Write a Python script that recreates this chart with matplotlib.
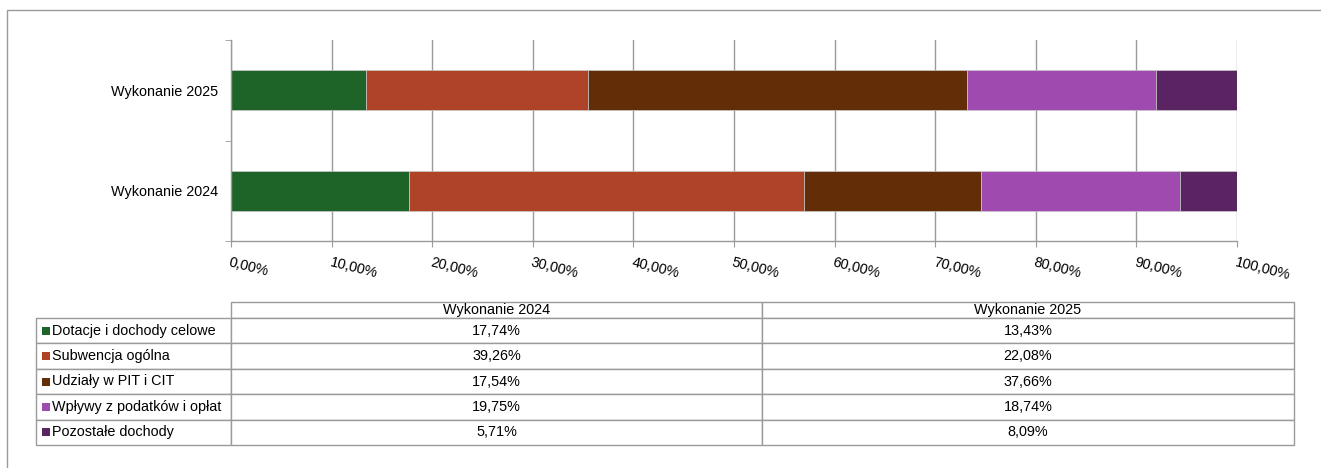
import matplotlib.pyplot as plt
from matplotlib.patches import Rectangle
from matplotlib.table import Table
from matplotlib.ticker import FixedLocator
import numpy as np

plt.rcParams['font.family'] = ['Liberation Sans', 'DejaVu Sans']
plt.rcParams['font.size'] = 10.4

years = ['Wykonanie 2024', 'Wykonanie 2025']
categories = ['Dotacje i dochody celowe', 'Subwencja ogólna', 'Udziały w PIT i CIT',
              'Wpływy z podatków i opłat', 'Pozostałe dochody']
share_2024 = [17.74, 39.26, 17.54, 19.75, 5.71]
share_2025 = [13.43, 22.08, 37.66, 18.74, 8.09]
colors = ['#1e6429', '#ae4327', '#632e07', '#9e4aae', '#5a2361']
x_ticks = np.arange(0, 101, 10)

GRAY = '#9a9a9a'

fig = plt.figure(figsize=(13.21, 4.68), dpi=100)

# outer frame (left and top edges visible)
fig.patches.append(Rectangle((7 / 1321, -0.5), 2, 1.5 - 10 / 468,
                             transform=fig.transFigure, fill=False,
                             edgecolor=GRAY, linewidth=1))

ax = fig.add_axes([231 / 1321, 227 / 468, 1006 / 1321, 201 / 468])
series = np.array([share_2024, share_2025])
left = np.zeros(len(years))
for i, c in enumerate(colors):
    ax.barh(np.arange(len(years)), series[:, i], left=left, height=0.4,
            color=c, edgecolor='#c9c9c9', linewidth=0.5, zorder=3)
    left += series[:, i]

ax.set_xlim(0, 100)
ax.set_ylim(-0.5, 1.5)
ax.set_xticks(x_ticks)
ax.set_xticklabels([f'{v:.2f}%'.replace('.', ',') for v in x_ticks],
                   rotation=-14, ha='left', va='top', rotation_mode='anchor')
ax.set_yticks(np.arange(len(years)))
ax.set_yticklabels(years)
ax.yaxis.set_minor_locator(FixedLocator([-0.5, 0.5, 1.5]))
ax.tick_params(axis='y', which='major', length=0, pad=9)
ax.tick_params(axis='y', which='minor', length=4, color=GRAY)
ax.tick_params(axis='x', length=4, color=GRAY, pad=6)
ax.grid(axis='x', color=GRAY, linewidth=1, zorder=0)
for s in ['top', 'right']:
    ax.spines[s].set_visible(False)
for s in ['left', 'bottom']:
    ax.spines[s].set_color(GRAY)
    ax.spines[s].set_linewidth(1)
    ax.spines[s].set_zorder(4)

# data table below
tax = fig.add_axes([36 / 1321, 23 / 468, 1258 / 1321, 143 / 468])
tax.set_axis_off()
tab = Table(tax, bbox=[0, 0, 1, 1])
col_w = [195, 531, 532]
head_h, row_h = 16, 25.4
for j, name in enumerate(years):
    cell = tab.add_cell(0, j + 1, col_w[j + 1], head_h, text=name, loc='center')
    cell.set_edgecolor(GRAY)
values = [share_2024, share_2025]
for i, cat in enumerate(categories):
    cell = tab.add_cell(i + 1, 0, col_w[0], row_h, text=cat, loc='left')
    cell.PAD = 0.083
    cell.set_edgecolor(GRAY)
    for j in range(len(years)):
        txt = f'{values[j][i]:.2f}%'.replace('.', ',')
        cell = tab.add_cell(i + 1, j + 1, col_w[j + 1], row_h, text=txt, loc='center')
        cell.set_edgecolor(GRAY)
tab.auto_set_font_size(False)
tab.set_fontsize(10.4)
tax.add_table(tab)

# legend keys in the row labels
total_h = head_h + row_h * len(categories)
for i, c in enumerate(colors):
    yc = 1 - (head_h + row_h * (i + 0.5)) / total_h
    tax.add_patch(Rectangle((6 / 1258, yc - 4 / 143), 8 / 1258, 8 / 143,
                            transform=tax.transAxes, facecolor=c,
                            edgecolor='none', clip_on=False))

fig.savefig('out.png', dpi=100)
